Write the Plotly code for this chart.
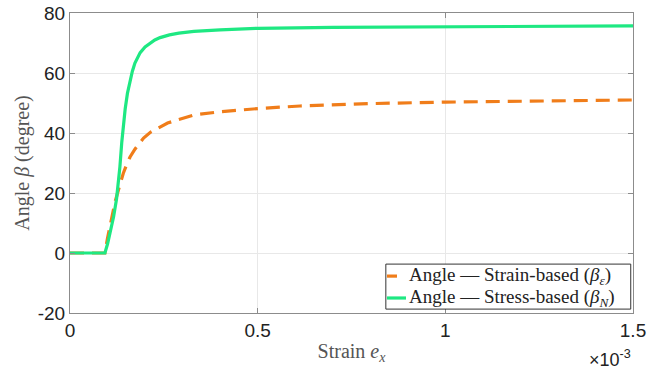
import plotly.graph_objects as go

# Strain e_x (dimensionless) and principal angle beta in degrees
strain_stress = [0, 0.093e-3, 0.100e-3, 0.107e-3, 0.116e-3, 0.124e-3, 0.129e-3, 0.133e-3,
                 0.138e-3, 0.143e-3, 0.147e-3, 0.153e-3, 0.160e-3, 0.166e-3, 0.173e-3,
                 0.180e-3, 0.187e-3, 0.200e-3, 0.213e-3, 0.226e-3, 0.240e-3, 0.265e-3,
                 0.290e-3, 0.330e-3, 0.400e-3, 0.500e-3, 0.700e-3, 1.000e-3, 1.250e-3,
                 1.500e-3]
beta_stress = [0, 0, 3.0, 6.6, 12, 18, 23, 28.8,
               37, 43.5, 48, 53.2, 57.4, 60.5, 63.3,
               65.3, 66.8, 68.7, 70.0, 71.0, 71.8, 72.7,
               73.3, 73.9, 74.4, 74.9, 75.2, 75.4, 75.6,
               75.7]

strain_strain = [0, 0.093e-3, 0.100e-3, 0.111e-3, 0.120e-3, 0.129e-3, 0.142e-3, 0.151e-3,
                 0.160e-3, 0.173e-3, 0.187e-3, 0.196e-3, 0.215e-3, 0.240e-3, 0.260e-3,
                 0.284e-3, 0.330e-3, 0.400e-3, 0.507e-3, 0.613e-3, 0.800e-3, 1.000e-3,
                 1.250e-3, 1.500e-3]
beta_strain = [0, 0, 5, 12, 17, 21, 26.6, 29.5,
               32, 34.6, 36.8, 38.3, 40.3, 42.1, 43.3,
               44.3, 46, 47.1, 48.2, 49, 49.8, 50.3,
               50.7, 51]

x_ticks = [0, 0.5e-3, 1.0e-3, 1.5e-3]
x_tick_text = ["0", "0.5", "1", "1.5"]
y_ticks = [-20, 0, 20, 40, 60, 80]
y_tick_text = ["-20", "0", "20", "40", "60", "80"]

series_names = ["Angle — Strain-based (<i>β<sub>ε</sub></i>)",
                "Angle — Stress-based (<i>β<sub>N</sub></i>)"]

ORANGE = "#F07D1A"
GREEN = "#1EE882"
SERIF = "Liberation Serif"
SANS = "Liberation Sans"

fig = go.Figure()
fig.add_trace(go.Scatter(
    x=strain_strain, y=beta_strain, mode="lines",
    line=dict(color=ORANGE, width=3.2, dash="14px,8px"),
    name=series_names[0], showlegend=False,
))
fig.add_trace(go.Scatter(
    x=strain_stress, y=beta_stress, mode="lines",
    line=dict(color=GREEN, width=3.2),
    name=series_names[1], showlegend=False,
))

axis_common = dict(
    showline=True, linecolor="#8c8c8c", linewidth=1, mirror="ticks",
    ticks="inside", ticklen=5, tickcolor="#8c8c8c",
    showgrid=True, gridcolor="#e8e8e8", gridwidth=1, zeroline=False,
    tickfont=dict(family=SANS, size=19, color="#222222"),
    automargin=False,
)

fig.update_xaxes(
    range=[0, 1.5e-3], tickvals=x_ticks, ticktext=x_tick_text,
    title=dict(text="Strain <i>e<sub>x</sub></i>", font=dict(family=SERIF, size=20, color="#555555"), standoff=4),
    **axis_common,
)
fig.update_yaxes(
    range=[-20, 80], tickvals=y_ticks, ticktext=y_tick_text,
    title=dict(text="Angle <i>β</i> (degree)", font=dict(family=SERIF, size=20, color="#555555"), standoff=2),
    **axis_common,
)

fig.add_annotation(
    text="×10<sup>-3</sup>", xref="paper", yref="paper", x=1.0, y=-0.105,
    xanchor="right", yanchor="top", showarrow=False,
    font=dict(family=SANS, size=18, color="#222222"),
)

# Compact legend box in the lower right corner (short line samples)
fig.add_shape(type="rect", xref="paper", yref="paper",
              x0=0.561, x1=0.996, y0=0.013, y1=0.163,
              line=dict(color="#333333", width=1), fillcolor="white", layer="above")
legend_rows = [(0.123, ORANGE, 0.5808), (0.050, GREEN, 0.5968)]
for (row_y, color, x_end), label in zip(legend_rows, series_names):
    fig.add_shape(type="line", xref="paper", yref="paper",
                  x0=0.5631, x1=x_end, y0=row_y, y1=row_y,
                  line=dict(color=color, width=3.2), layer="above")
    fig.add_annotation(text=label, xref="paper", yref="paper",
                       x=0.5986, y=row_y, xanchor="left", yanchor="middle",
                       showarrow=False,
                       font=dict(family=SERIF, size=19, color="#222222"))

fig.update_layout(
    width=647, height=375,
    margin=dict(l=70, r=14, t=13, b=62),
    plot_bgcolor="white", paper_bgcolor="white",
)

fig.write_html("out.html")
